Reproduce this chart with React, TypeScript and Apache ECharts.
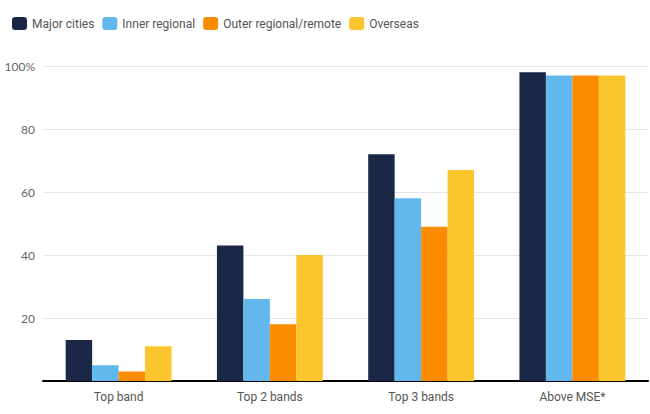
import React, { useEffect, useRef } from "react";
import * as echarts from "echarts";

const categories = ["Top band", "Top 2 bands", "Top 3 bands", "Above MSE*"];
const seriesNames = ["Major cities", "Inner regional", "Outer regional/remote", "Overseas"];
const majorCities = [13, 43, 72, 98];
const innerRegional = [5, 26, 58, 97];
const outerRegional = [3, 18, 49, 97];
const overseas = [11, 40, 67, 97];
const colors = ["#1a2747", "#62b8ec", "#fb8c00", "#fbc52e"];

export default function App() {
  const ref = useRef<HTMLDivElement>(null);
  useEffect(() => {
    if (!ref.current) return;
    const chart = echarts.init(ref.current, null, { renderer: "svg" });
    const data = [majorCities, innerRegional, outerRegional, overseas];
    chart.setOption({
      animation: false,
      color: colors,
      textStyle: { fontFamily: "Roboto" },
      legend: {
        left: 7,
        top: 12,
        itemWidth: 15,
        itemHeight: 13,
        itemGap: 8,
        icon: "roundRect",
        textStyle: { color: "#555", fontSize: 12, fontFamily: "Roboto" },
        data: seriesNames,
      },
      grid: { left: 43, right: 2, top: 66, bottom: 33, containLabel: false },
      xAxis: {
        type: "category",
        data: categories,
        axisLine: { lineStyle: { color: "#000", width: 2 } },
        axisTick: { show: false },
        axisLabel: { color: "#555", fontSize: 12, fontFamily: "Roboto", margin: 10 },
      },
      yAxis: {
        type: "value",
        min: 0,
        max: 100,
        interval: 20,
        axisLine: { show: false },
        axisTick: { show: false },
        splitLine: { lineStyle: { color: "#e6e6e6" } },
        axisLabel: {
          color: "#666",
          fontSize: 12,
          fontFamily: "Lato",
          margin: 8,
          formatter: (v: number) => (v === 0 ? "" : v === 100 ? "100%" : String(v)),
        },
      },
      series: seriesNames.map((name, i) => ({
        name,
        type: "bar",
        data: data[i],
        barGap: "0%",
        barCategoryGap: "30%",
      })),
    });
    return () => chart.dispose();
  }, []);
  return (
    <div
      ref={ref}
      style={{ position: "fixed", left: 0, top: 0, width: 650, height: 414, background: "#fff" }}
    />
  );
}
